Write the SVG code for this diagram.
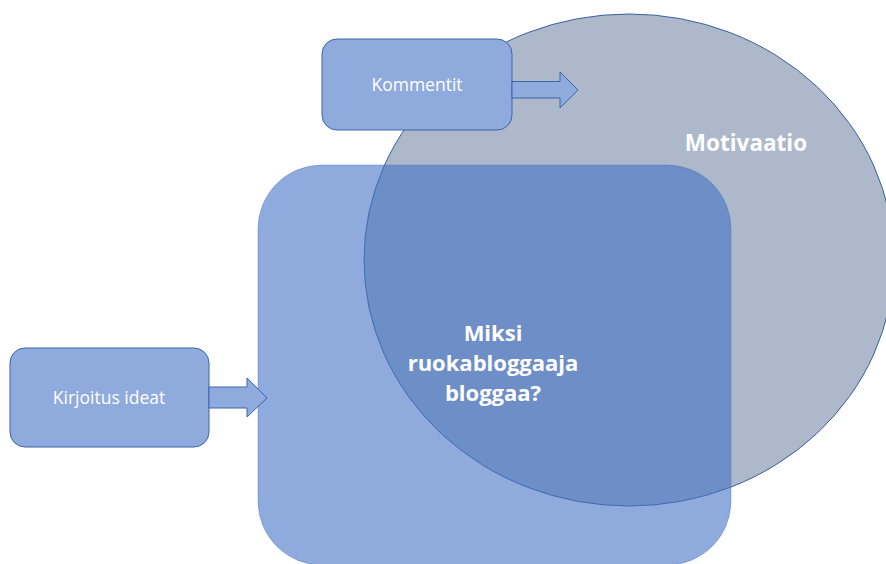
<svg xmlns="http://www.w3.org/2000/svg" width="886" height="564" viewBox="0 0 886 564">
<style>
.box{fill:#8FAADC;stroke:#3B64AD;stroke-width:1}
.lbl{font-family:"Open Sans","Liberation Sans",sans-serif;fill:#FFFFFF;text-anchor:middle}
.small{font-size:17.5px}
.big{font-size:22.5px;font-weight:bold}
.mid{font-size:22px;font-weight:bold}
.arrow{fill:#8FAADC;stroke:#3B64AD;stroke-width:1;stroke-linejoin:miter}
</style>
<rect width="886" height="564" fill="#FFFFFF"/>
<g id="motivaatio">
<ellipse cx="629" cy="260" rx="265" ry="246" fill="#ADB9CA" stroke="#3A5F9E" stroke-width="1"/>
<text class="lbl big" x="746" y="151">Motivaatio</text>
</g>
<g id="miksi">
<rect x="258" y="165" width="473" height="400" rx="64" ry="64" fill="#4472C4" fill-opacity="0.6" stroke="#4472C4" stroke-opacity="0.4" stroke-width="1"/>
<text class="lbl mid"><tspan x="493" y="341">Miksi</tspan><tspan x="493" y="371">ruokabloggaaja</tspan><tspan x="493" y="401">bloggaa?</tspan></text>
</g>
<g id="kommentit">
<rect class="box" x="322" y="39" width="190" height="91" rx="15" ry="15"/>
<text class="lbl small" x="417" y="91">Kommentit</text>
</g>
<g id="kirjoitus">
<rect class="box" x="10" y="348" width="199" height="99" rx="15" ry="15"/>
<text class="lbl small" x="109" y="404">Kirjoitus ideat</text>
</g>
<g id="connectors">
<polygon class="arrow" points="512,81.5 560,81.5 560,72 578,90 560,108 560,98 512,98"/>
<polygon class="arrow" points="209,387 247,387 247,378 267,398 247,417 247,408 209,408"/>
</g>
</svg>
